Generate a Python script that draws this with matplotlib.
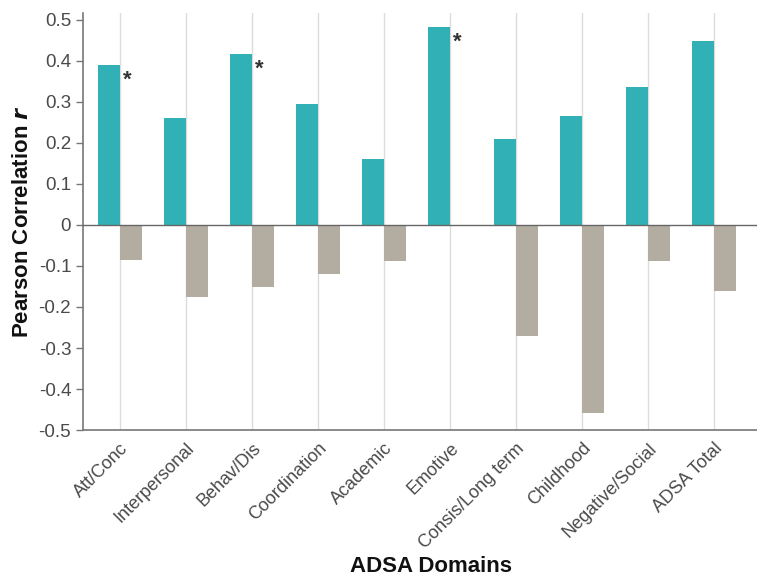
import numpy as np
import matplotlib
matplotlib.use("Agg")
import matplotlib.pyplot as plt

plt.rcParams['font.family'] = ['Liberation Sans', 'DejaVu Sans']

# data
domains = ['Att/Conc', 'Interpersonal', 'Behav/Dis', 'Coordination', 'Academic',
           'Emotive', 'Consis/Long term', 'Childhood', 'Negative/Social', 'ADSA Total']
r_pos = [0.390, 0.260, 0.417, 0.295, 0.161, 0.483, 0.210, 0.266, 0.337, 0.449]
r_neg = [-0.085, -0.175, -0.151, -0.120, -0.088, 0.0, -0.270, -0.459, -0.088, -0.161]
significant = [True, False, True, False, False, True, False, False, False, False]

teal = '#31b1b6'
taupe = '#b3ada1'

fig = plt.figure(figsize=(7.57, 5.80), dpi=100)
ax = fig.add_axes([0.1096, 0.2586, 0.8904, 0.719])

x = np.arange(len(domains))
w = 0.335

ax.bar(x - w / 2, r_pos, width=w, color=teal, zorder=2)
ax.bar(x + w / 2, r_neg, width=w, color=taupe, zorder=2)

for xi, v, s in zip(x, r_pos, significant):
    if s:
        ax.text(xi + 0.04, v - 0.012, '*', fontsize=16, fontweight='bold',
                color='#333333', ha='left', va='top', zorder=3)

# vertical grid at category positions
for xi in x:
    ax.axvline(xi, color='#dcdcdc', lw=1, zorder=1)
ax.axhline(0, color='#666666', lw=1, zorder=3)

ax.set_xlim(-0.56, 9.65)
ax.set_ylim(-0.5, 0.517)
ax.set_yticks(np.arange(-0.5, 0.51, 0.1))
ax.set_yticklabels(['-0.5', '-0.4', '-0.3', '-0.2', '-0.1', '0',
                    '0.1', '0.2', '0.3', '0.4', '0.5'])
ax.set_xticks(x)
ax.set_xticklabels(domains, rotation=45, ha='right', rotation_mode='anchor')

ax.tick_params(axis='y', labelsize=13.5, colors='#777777', labelcolor='#4a4a4a',
               length=5, width=1)
ax.tick_params(axis='x', labelsize=13, length=0, labelcolor='#4a4a4a', pad=7)

for side in ['top', 'right']:
    ax.spines[side].set_visible(False)
for side in ['left', 'bottom']:
    ax.spines[side].set_color('#777777')
    ax.spines[side].set_linewidth(1.2)

ax.set_ylabel(r'Pearson Correlation $\bfit{r}$', fontsize=16, fontweight='bold',
              color='#111111', labelpad=4)
fig.text(0.57, 0.005, 'ADSA Domains', fontsize=16, fontweight='bold',
         color='#111111', ha='center', va='bottom')

fig.savefig('out.png', dpi=100)
